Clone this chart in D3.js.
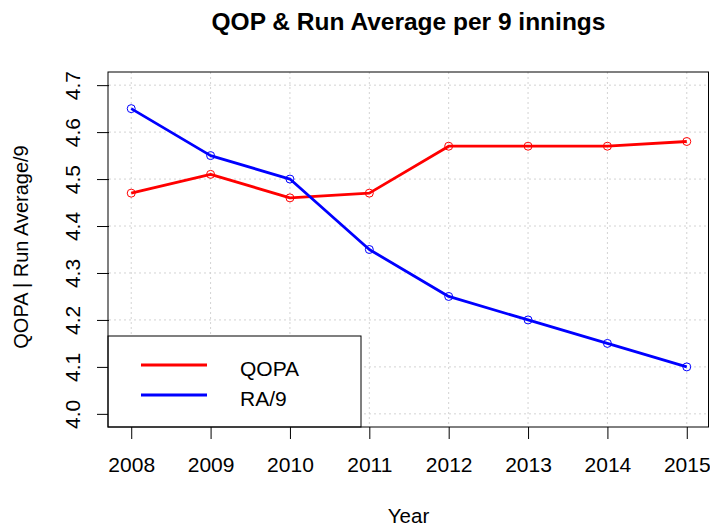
<!DOCTYPE html>
<html>
<head>
<meta charset="utf-8">
<script src="https://cdn.jsdelivr.net/npm/d3@7"></script>
<style>
  html, body { margin: 0; padding: 0; background: #fff; }
  svg { display: block; font-family: "Liberation Sans", Arial, sans-serif; }
</style>
</head>
<body>
<svg id="chart" width="710" height="527"></svg>
<script>
// Seasons and the two series plotted per season
const years = [2008, 2009, 2010, 2011, 2012, 2013, 2014, 2015];
const qopa  = [4.47, 4.51, 4.46, 4.47, 4.57, 4.57, 4.57, 4.58];
const ra9   = [4.65, 4.55, 4.50, 4.35, 4.25, 4.20, 4.15, 4.10];
const yTicks = [4.0, 4.1, 4.2, 4.3, 4.4, 4.5, 4.6, 4.7];
const seriesNames = ["QOPA", "RA/9"];
const seriesColors = ["#ff0000", "#0000ff"];

const FONT = "Liberation Sans, Arial, sans-serif";
const svg = d3.select("#chart");

// Plot region (R-style 4% axis padding)
const pLeft = 109, pRight = 709, pTop = 72, pBottom = 427;
const padX = 0.04 * (2015 - 2008);
const padY = 0.04 * (4.7 - 4.0);
const x = d3.scaleLinear().domain([2008 - padX, 2015 + padX]).range([pLeft, pRight]);
const y = d3.scaleLinear().domain([4.0 - padY, 4.7 + padY]).range([pBottom, pTop]);

// Dotted grid
const grid = svg.append("g").attr("stroke", "#d3d3d3").attr("stroke-dasharray", "2,3").attr("stroke-width", 1);
grid.selectAll("line.gx").data(years).join("line").attr("class", "gx")
  .attr("x1", d => x(d)).attr("x2", d => x(d)).attr("y1", pTop).attr("y2", pBottom);
grid.selectAll("line.gy").data(yTicks).join("line").attr("class", "gy")
  .attr("x1", pLeft).attr("x2", pRight).attr("y1", d => y(d)).attr("y2", d => y(d));

// Series lines and open circle markers
const series = [qopa, ra9];
const line = d3.line().x((d, i) => x(years[i])).y(d => y(d));
series.forEach((vals, k) => {
  svg.append("path").datum(vals)
    .attr("d", line).attr("fill", "none")
    .attr("stroke", seriesColors[k]).attr("stroke-width", 2.8)
    .attr("stroke-linejoin", "round");
  svg.append("g").selectAll("circle").data(vals).join("circle")
    .attr("cx", (d, i) => x(years[i])).attr("cy", d => y(d)).attr("r", 4)
    .attr("fill", "none").attr("stroke", seriesColors[k]).attr("stroke-width", 1);
});

// Axes
const xAxis = d3.axisBottom(x).tickValues(years).tickFormat(d3.format("d")).tickSize(12).tickPadding(0);
const gx = svg.append("g").attr("transform", `translate(0,${pBottom})`).call(xAxis);
gx.select(".domain").remove();
gx.selectAll("line").attr("stroke", "#000");
gx.selectAll("text")
  .attr("font-size", 21).attr("fill", "#000").attr("font-family", FONT)
  .attr("y", 45).attr("dy", null);

const yAxis = d3.axisLeft(y).tickValues(yTicks).tickFormat(d3.format(".1f")).tickSize(12);
const gy = svg.append("g").attr("transform", `translate(${pLeft},0)`).call(yAxis);
gy.select(".domain").remove();
gy.selectAll("line").attr("stroke", "#000");
gy.selectAll("text")
  .attr("font-size", 21).attr("fill", "#000").attr("font-family", FONT)
  .attr("text-anchor", "middle").attr("dy", null).attr("x", null)
  .attr("transform", "translate(-29,0) rotate(-90)");

// Legend
const lg = svg.append("g");
lg.append("rect").attr("x", pLeft - 1).attr("y", 336).attr("width", 253).attr("height", pBottom - 336)
  .attr("fill", "#fff").attr("stroke", "#000").attr("stroke-width", 1);
seriesNames.forEach((name, k) => {
  const ly = 365 + k * 30;
  lg.append("line").attr("x1", 141).attr("x2", 207).attr("y1", ly).attr("y2", ly)
    .attr("stroke", seriesColors[k]).attr("stroke-width", 2.8);
  lg.append("text").attr("x", 240).attr("y", ly + 11)
    .attr("font-size", 21).attr("fill", "#000").text(name);
});

// Plot frame
svg.append("rect").attr("x", pLeft - 1).attr("y", pTop).attr("width", pRight - pLeft + 0.5).attr("height", pBottom - pTop)
  .attr("fill", "none").attr("stroke", "#000").attr("stroke-width", 1);

// Titles
svg.append("text").attr("x", 408.5).attr("y", 30).attr("text-anchor", "middle")
  .attr("font-size", 24.5).attr("font-weight", "bold").text("QOP & Run Average per 9 innings");
svg.append("text").attr("x", 408.5).attr("y", 523).attr("text-anchor", "middle")
  .attr("font-size", 20.5).text("Year");
svg.append("text").attr("transform", `translate(28,247) rotate(-90)`)
  .attr("text-anchor", "middle").attr("font-size", 20).text("QOPA | Run Average/9");
</script>
</body>
</html>
